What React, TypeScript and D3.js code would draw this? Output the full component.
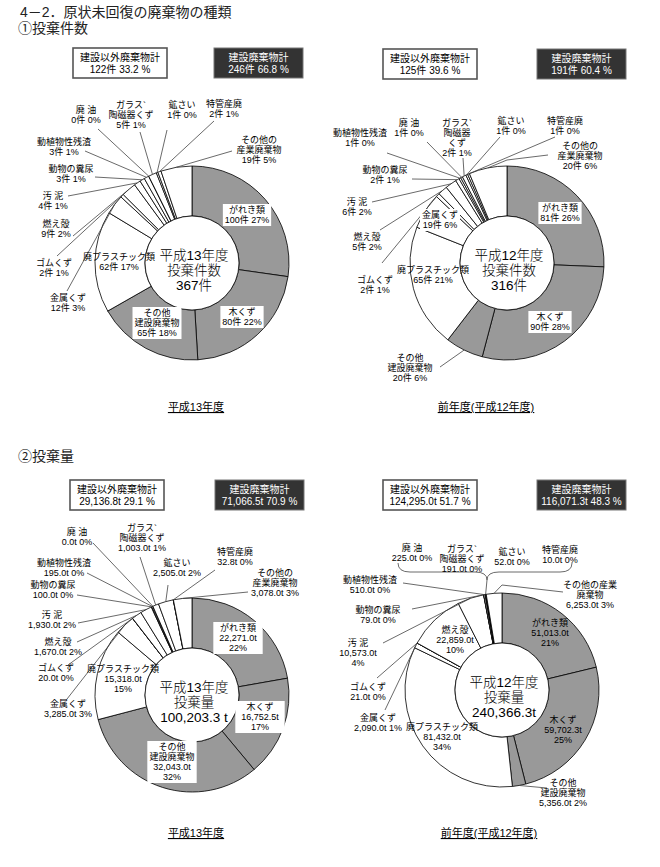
import React from 'react';
import * as d3 from 'd3';

// categories in the order the slices run clockwise from 12 o'clock
const categories = [
  'がれき類', '木くず', 'その他建設廃棄物', '廃プラスチック類', '金属くず', 'ゴムくず', '燃え殻',
  '汚泥', '動物の糞尿', '動植物性残渣', '廃油', 'ガラス陶磁器くず', '鉱さい', '特管産廃', 'その他の産業廃棄物',
];
const constructionCount = 3; // first three are 建設廃棄物 (grey)

const countH13 = [100, 80, 65, 62, 12, 2, 9, 4, 3, 3, 0, 5, 1, 2, 19];
const countH12 = [81, 90, 20, 65, 19, 2, 5, 6, 2, 1, 1, 2, 1, 1, 20];
const amountH13 = [22271.0, 16752.5, 32043.0, 15318.0, 3285.0, 20.0, 1670.0, 1930.0, 100.0, 195.0, 0.0, 1003.0, 2505.0, 32.8, 3078.0];
const amountH12 = [51013.0, 59702.3, 5356.0, 81432.0, 2090.0, 21.0, 22859.0, 10573.0, 79.0, 510.0, 225.0, 191.0, 52.0, 10.0, 6253.0];

const totalsCountH13 = [['建設以外廃棄物計', '122件  33.2 %'], ['建設廃棄物計', '246件  66.8 %']];
const totalsCountH12 = [['建設以外廃棄物計', '125件  39.6 %'], ['建設廃棄物計', '191件  60.4 %']];
const totalsAmountH13 = [['建設以外廃棄物計', '29,136.8t  29.1 %'], ['建設廃棄物計', '71,066.5t  70.9 %']];
const totalsAmountH12 = [['建設以外廃棄物計', '124,295.0t  51.7 %'], ['建設廃棄物計', '116,071.3t  48.3 %']];

const centerH13Count = ['平成13年度', '投棄件数', '367件'];
const centerH12Count = ['平成12年度', '投棄件数', '316件'];
const centerH13Amount = ['平成13年度', '投棄量', '100,203.3 t'];
const centerH12Amount = ['平成12年度', '投棄量', '240,366.3t'];

const FONT = '"Liberation Sans", "Noto Sans CJK JP", sans-serif';
const GREY = '#999999';
const R = 97;
const r0 = 47;

type Spec = {
  i: number; x: number; y: number; name: string[];
  split?: boolean; box?: boolean; lead?: [number, number]; elbow?: [number, number];
};

const labelsCountH13: Spec[] = [
  { i: 0, x: 247, y: 210, name: ['がれき類'], box: true },
  { i: 1, x: 242, y: 312, name: ['木くず'], box: true },
  { i: 2, x: 157, y: 313, name: ['その他', '建設廃棄物'], box: true },
  { i: 3, x: 119, y: 257, name: ['廃プラスチック類'] },
  { i: 4, x: 68, y: 298, name: ['金属くず'], lead: [67, 291] },
  { i: 5, x: 54, y: 263, name: ['ゴムくず'], lead: [57, 256] },
  { i: 6, x: 56, y: 224, name: ['燃え殻'], lead: [73, 236] },
  { i: 7, x: 53, y: 196, name: ['汚 泥'], lead: [68, 196] },
  { i: 8, x: 71, y: 169, name: ['動物の糞尿'], lead: [95, 177] },
  { i: 9, x: 64, y: 142, name: ['動植物性残渣'], lead: [85, 151] },
  { i: 10, x: 86, y: 110, name: ['廃 油'], lead: [98, 129] },
  { i: 11, x: 131, y: 105, name: ['ガラス`', '陶磁器くず'], lead: [140, 132] },
  { i: 12, x: 182, y: 105, name: ['鉱さい'], lead: [167, 130] },
  { i: 13, x: 224, y: 104, name: ['特管産廃'], lead: [214, 121] },
  { i: 14, x: 259, y: 140, name: ['その他の', '産業廃棄物'], lead: [232, 151] },
];

const labelsCountH12: Spec[] = [
  { i: 0, x: 560, y: 208, name: ['がれき類'], box: true },
  { i: 1, x: 550, y: 317, name: ['木くず'], box: true },
  { i: 2, x: 410, y: 358, name: ['その他', '建設廃棄物'], lead: [440, 367] },
  { i: 3, x: 433, y: 270, name: ['廃プラスチック類'] },
  { i: 4, x: 440, y: 215, name: ['金属くず'], box: true },
  { i: 5, x: 375, y: 280, name: ['ゴムくず'], lead: [382, 263] },
  { i: 6, x: 367, y: 237, name: ['燃え殻'], lead: [380, 230] },
  { i: 7, x: 357, y: 202, name: ['汚 泥'], lead: [372, 202] },
  { i: 8, x: 385, y: 170, name: ['動物の糞尿'], lead: [412, 179] },
  { i: 9, x: 360, y: 133, name: ['動植物性残渣'], lead: [387, 153] },
  { i: 10, x: 409, y: 123, name: ['廃 油'], lead: [427, 142] },
  { i: 11, x: 457, y: 123, name: ['ガラス`', '陶磁器', 'くず'], lead: [463, 158] },
  { i: 12, x: 511, y: 121, name: ['鉱さい'], lead: [500, 137] },
  { i: 13, x: 565, y: 121, name: ['特管産廃'], lead: [555, 137] },
  { i: 14, x: 580, y: 146, name: ['その他の', '産業廃棄物'], lead: [548, 155], elbow: [507, 160] },
];

const labelsAmountH13: Spec[] = [
  { i: 0, x: 238, y: 628, name: ['がれき類'], split: true, box: true },
  { i: 1, x: 260, y: 707, name: ['木くず'], split: true, box: true },
  { i: 2, x: 172, y: 747, name: ['その他', '建設廃棄物'], split: true, box: true },
  { i: 3, x: 123, y: 669, name: ['廃プラスチック類'], split: true },
  { i: 4, x: 68, y: 704, name: ['金属くず'], lead: [67, 699] },
  { i: 5, x: 56, y: 668, name: ['ゴムくず'], lead: [68, 665] },
  { i: 6, x: 58, y: 642, name: ['燃え殻'], lead: [77, 642] },
  { i: 7, x: 52, y: 615, name: ['汚 泥'], lead: [78, 623] },
  { i: 8, x: 53, y: 585, name: ['動物の糞尿'], lead: [77, 595] },
  { i: 9, x: 64, y: 563, name: ['動植物性残渣'], lead: [87, 573] },
  { i: 10, x: 77, y: 532, name: ['廃 油'], lead: [93, 543] },
  { i: 11, x: 142, y: 528, name: ['ガラス`', '陶磁器くず'], lead: [140, 557] },
  { i: 12, x: 177, y: 563, name: ['鉱さい'], lead: [168, 585] },
  { i: 13, x: 235, y: 552, name: ['特管産廃'], lead: [215, 570] },
  { i: 14, x: 275, y: 573, name: ['その他の', '産業廃棄物'], lead: [248, 592] },
];

const labelsAmountH12: Spec[] = [
  { i: 0, x: 550, y: 623, name: ['がれき類'], split: true },
  { i: 1, x: 563, y: 720, name: ['木くず'], split: true },
  { i: 2, x: 563, y: 783, name: ['その他', '建設廃棄物'], lead: [547, 788] },
  { i: 3, x: 442, y: 727, name: ['廃プラスチック類'], split: true },
  { i: 4, x: 378, y: 718, name: ['金属くず'], lead: [385, 710] },
  { i: 5, x: 368, y: 687, name: ['ゴムくず'], lead: [377, 678] },
  { i: 6, x: 455, y: 630, name: ['燃え殻'], split: true },
  { i: 7, x: 358, y: 643, name: ['汚 泥'], split: true, lead: [383, 643] },
  { i: 8, x: 378, y: 610, name: ['動物の糞尿'], lead: [412, 609] },
  { i: 9, x: 370, y: 580, name: ['動植物性残渣'], lead: [403, 583] },
  { i: 10, x: 412, y: 548, name: ['廃 油'] },
  { i: 11, x: 462, y: 549, name: ['ガラス`', '陶磁器くず'] },
  { i: 12, x: 512, y: 552, name: ['鉱さい'] },
  { i: 13, x: 560, y: 550, name: ['特管産廃'] },
  { i: 14, x: 590, y: 585, name: ['その他の産業', '廃棄物'], lead: [563, 592], elbow: [502, 585] },
];

const fmtT = d3.format(',.1f');

type ChartCfg = {
  values: number[]; unit: 'count' | 'amount'; cx: number; cy: number;
  center: string[]; totals: string[][]; boxX: [number, number]; boxY: number;
  labels: Spec[]; caption: string; captionY: number; captionX: number; brace?: boolean;
};

const charts: ChartCfg[] = [
  { values: countH13, unit: 'count', cx: 192, cy: 263, center: centerH13Count, totals: totalsCountH13,
    boxX: [73, 214], boxY: 48, labels: labelsCountH13, caption: '平成13年度', captionX: 196, captionY: 407 },
  { values: countH12, unit: 'count', cx: 507, cy: 263, center: centerH12Count, totals: totalsCountH12,
    boxX: [383, 537], boxY: 49, labels: labelsCountH12, caption: '前年度(平成12年度)', captionX: 486, captionY: 407 },
  { values: amountH13, unit: 'amount', cx: 192, cy: 695, center: centerH13Amount, totals: totalsAmountH13,
    boxX: [70, 215], boxY: 480, labels: labelsAmountH13, caption: '平成13年度', captionX: 196, captionY: 833 },
  { values: amountH12, unit: 'amount', cx: 502, cy: 690, center: centerH12Amount, totals: totalsAmountH12,
    boxX: [383, 537], boxY: 480, labels: labelsAmountH12, caption: '前年度(平成12年度)', captionX: 489, captionY: 833, brace: true },
];

const textWidth = (s: string, size: number) =>
  Array.from(s).reduce((w, ch) => w + (ch.charCodeAt(0) > 255 ? size : size * 0.56), 0);

function Donut({ cfg }: { cfg: ChartCfg }) {
  const { values, unit, cx, cy } = cfg;
  const total = d3.sum(values);
  const pie = d3.pie<number>().sort(null).value(d => d)(values);
  const arc = d3.arc<d3.PieArcDatum<number>>().innerRadius(r0).outerRadius(R);
  const rim = d3.arc<d3.PieArcDatum<number>>().innerRadius(R).outerRadius(R);
  const pct = (v: number) => `${Math.round((v / total) * 100)}%`;
  const val = (v: number) => (unit === 'count' ? `${v}件` : `${fmtT(v)}t`);

  const boxW = [94, 89];
  return (
    <g>
      {/* total boxes */}
      {cfg.totals.map((lines, k) => {
        const x = cfg.boxX[k];
        const w = boxW[k];
        const dark = k === 1;
        return (
          <g key={k}>
            <rect x={x} y={cfg.boxY} width={w} height={30} fill={dark ? '#333' : '#fff'}
              stroke={dark ? '#777' : '#555'} strokeWidth={dark ? 1 : 1.6} />
            {lines.map((t, j) => (
              <text key={j} x={x + w / 2} y={cfg.boxY + 12.5 + j * 12} textAnchor="middle"
                fontSize={10} fill={dark ? '#fff' : '#000'}>{t}</text>
            ))}
          </g>
        );
      })}

      <g transform={`translate(${cx},${cy})`}>
        {pie.map((p, k) => (
          <path key={k} d={arc(p) || ''} fill={k < constructionCount ? GREY : '#fff'}
            stroke="#000" strokeWidth={0.8} />
        ))}
        <circle r={r0} fill="#fff" stroke="#000" strokeWidth={0.8} />
        {cfg.center.map((t, j) => (
          <text key={j} x={2} y={-3 + j * 15} textAnchor="middle" fontSize={13.5} fontWeight={300}>{t}</text>
        ))}
      </g>

      {/* leader lines */}
      {cfg.labels.filter(l => l.lead).map(l => {
        const [px, py] = rim.centroid(pie[l.i]);
        const pts = [l.lead!, ...(l.elbow ? [l.elbow] : []), [cx + px, cy + py]];
        return <path key={'l' + l.i} d={d3.line()(pts as [number, number][]) || ''}
          fill="none" stroke="#444" strokeWidth={0.8} />;
      })}

      {cfg.brace && (() => {
        const a = (pie[10].startAngle + pie[13].endAngle) / 2;
        const tip = [cx + Math.sin(a) * R, cy - Math.cos(a) * R];
        return (
          <g fill="none" stroke="#444" strokeWidth={0.8}>
            <path d="M398,563 Q398,572 410,572 L475,572 Q487,572 487,580 Q487,572 499,572 L560,572 Q572,572 572,563" />
            <path d={`M487,580 L${tip[0]},${tip[1]}`} />
          </g>
        );
      })()}

      {/* slice labels */}
      {cfg.labels.map(l => {
        const v = values[l.i];
        const lines = [...l.name, ...(l.split ? [val(v), pct(v)] : [`${val(v)} ${pct(v)}`])];
        const w = d3.max(lines, s => textWidth(s, 9)) || 0;
        return (
          <g key={'t' + l.i}>
            {l.box && <rect x={l.x - w / 2 - 2} y={l.y - 6} width={w + 4} height={lines.length * 10 + 2} fill="#fff" />}
            {lines.map((s, j) => (
              <text key={j} x={l.x} y={l.y + 3 + j * 10} textAnchor="middle" fontSize={9}>{s}</text>
            ))}
          </g>
        );
      })}

      <text x={cfg.captionX} y={cfg.captionY + 4} textAnchor="middle" fontSize={11}
        textDecoration="underline">{cfg.caption}</text>
    </g>
  );
}

export default function App() {
  return (
    <svg width={660} height={867} lang="ja" style={{ position: 'absolute', left: 0, top: 0, background: '#fff' }}
      fontFamily={FONT}>
      <rect width={660} height={867} fill="#fff" />
      <text x={20} y={17} fontSize={14} fill="#222">4－2．原状未回復の廃棄物の種類</text>
      <text x={18} y={33} fontSize={14} fill="#222">①投棄件数</text>
      <text x={18} y={461} fontSize={14} fill="#222">②投棄量</text>
      {charts.map((c, k) => <Donut key={k} cfg={c} />)}
    </svg>
  );
}
